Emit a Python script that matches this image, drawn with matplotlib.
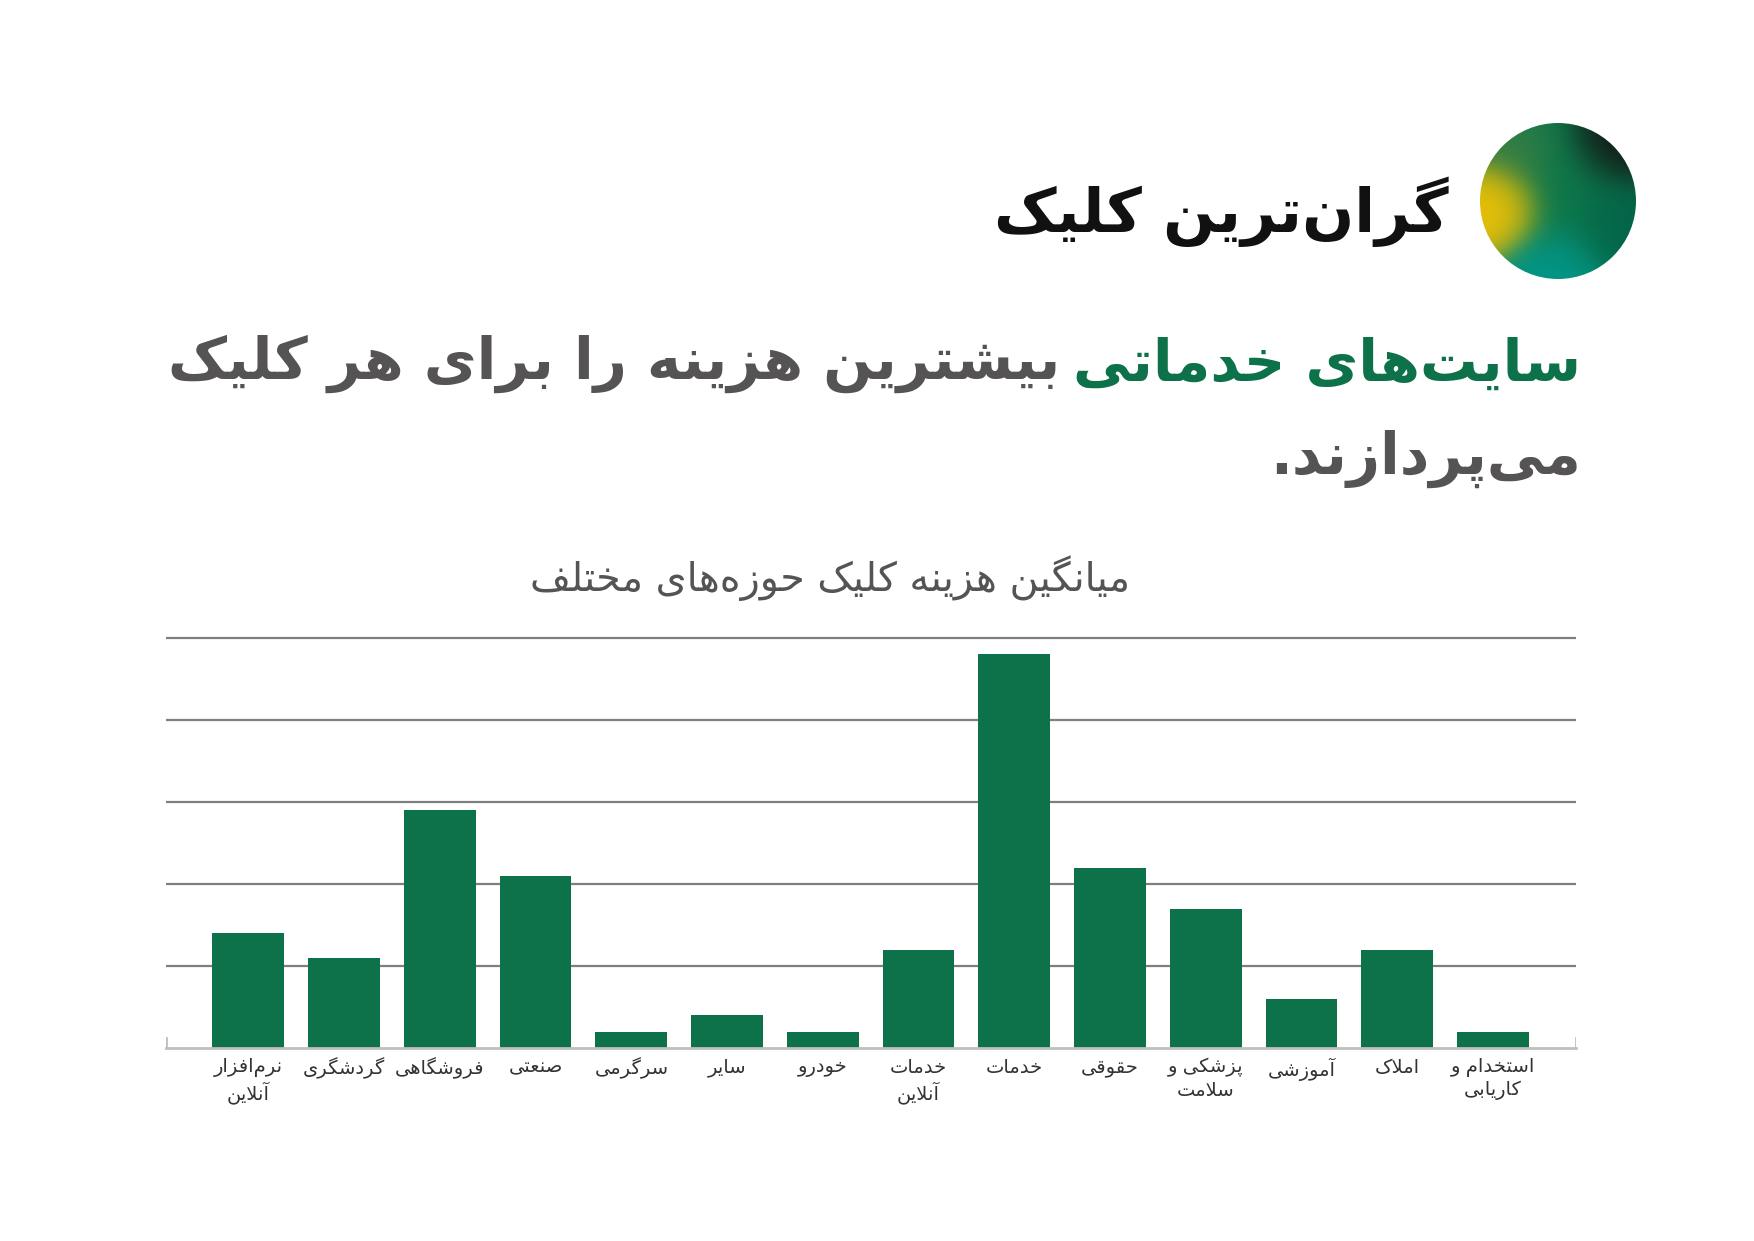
import numpy as np
import matplotlib
matplotlib.use("Agg")
import matplotlib.pyplot as plt
from matplotlib.patches import Circle

# ---------------- data ----------------
categories = ["نرم‌افزار\nآنلاین", "گردشگری", "فروشگاهی", "صنعتی", "سرگرمی", "سایر", "خودرو",
              "خدمات\nآنلاین", "خدمات", "حقوقی", "پزشکی و\nسلامت", "آموزشی", "املاک", "استخدام و\nکاریابی"]
values = [1.4, 1.1, 2.9, 2.1, 0.2, 0.4, 0.2, 1.2, 4.8, 2.2, 1.7, 0.6, 1.2, 0.2]
grid_levels = [1, 2, 3, 4, 5]

title_text = "گران‌ترین کلیک"
sub_green = "سایت‌های خدماتی"
sub_gray = "بیشترین هزینه را برای هر کلیک"
sub_line2 = "می‌پردازند."
chart_title = "میانگین هزینه کلیک حوزه‌های مختلف"

# ---------------- simple Persian shaper ----------------
def _dual(base):
    return (base, base + 1, base + 2, base + 3)

FORMS = {
    'آ': (0xFE81, 0xFE82, None, None), 'ا': (0xFE8D, 0xFE8E, None, None),
    'ب': _dual(0xFE8F), 'پ': _dual(0xFB56), 'ت': _dual(0xFE95), 'ث': _dual(0xFE99),
    'ج': _dual(0xFE9D), 'چ': _dual(0xFB7A), 'ح': _dual(0xFEA1), 'خ': _dual(0xFEA5),
    'د': (0xFEA9, 0xFEAA, None, None), 'ذ': (0xFEAB, 0xFEAC, None, None),
    'ر': (0xFEAD, 0xFEAE, None, None), 'ز': (0xFEAF, 0xFEB0, None, None),
    'ژ': (0xFB8A, 0xFB8B, None, None),
    'س': _dual(0xFEB1), 'ش': _dual(0xFEB5), 'ص': _dual(0xFEB9), 'ض': _dual(0xFEBD),
    'ط': _dual(0xFEC1), 'ظ': _dual(0xFEC5), 'ع': _dual(0xFEC9), 'غ': _dual(0xFECD),
    'ف': _dual(0xFED1), 'ق': _dual(0xFED5), 'ک': _dual(0xFB8E), 'گ': _dual(0xFB92),
    'ل': _dual(0xFEDD), 'م': _dual(0xFEE1), 'ن': _dual(0xFEE5),
    'و': (0xFEED, 0xFEEE, None, None), 'ه': _dual(0xFEE9), 'ی': _dual(0xFBFC),
}
LAMALEF = {'ا': (0xFEFB, 0xFEFC), 'آ': (0xFEF5, 0xFEF6)}


def _joins_next(c):
    return c in FORMS and FORMS[c][2] is not None


def shape_line(s):
    ch = list(s)
    n = len(ch)
    res = []
    i = 0
    while i < n:
        c = ch[i]
        if c not in FORMS:
            if c != '\u200c':
                res.append(c)
            i += 1
            continue
        prev = ch[i - 1] if i > 0 else None
        cp = prev is not None and _joins_next(prev)
        if c == 'ل' and i + 1 < n and ch[i + 1] in LAMALEF:
            lig = LAMALEF[ch[i + 1]]
            res.append(chr(lig[1] if cp else lig[0]))
            i += 2
            continue
        nxt = ch[i + 1] if i + 1 < n else None
        cn = _joins_next(c) and nxt is not None and nxt in FORMS
        f = FORMS[c]
        if cp and cn:
            g = f[3]
        elif cp:
            g = f[1]
        elif cn:
            g = f[2]
        else:
            g = f[0]
        res.append(chr(g))
        i += 1
    return ''.join(res)[::-1]


def fa(s):
    return '\n'.join(shape_line(l) for l in s.split('\n'))


# ---------------- figure ----------------
W, H = 1754, 1241
fig = plt.figure(figsize=(W / 100, H / 100), dpi=100)
fig.patch.set_facecolor('white')
plt.rcParams['font.family'] = ['DejaVu Sans']

GREEN = '#0d7249'
GRAY = '#555354'


def px(x, y):
    return x / W, 1 - y / H


# chart axes
ymax = 5.05
base_y = 1048
unit = 82
ax = fig.add_axes([165.6 / W, 1 - base_y / H, 1410.2 / W, ymax * unit / H])
x = np.arange(len(categories))
for g in grid_levels:
    ax.axhline(g, color='#7f7f7f', lw=1.6, zorder=1)
ax.bar(x, values, width=0.75, color=GREEN, zorder=2)
ax.set_xlim(-0.864, len(categories) - 1 + 0.864)
ax.set_ylim(0, ymax)
for s in ['top', 'right', 'left']:
    ax.spines[s].set_visible(False)
ax.spines['bottom'].set_color('#bfbfbf')
ax.spines['bottom'].set_linewidth(2)
ax.spines['bottom'].set_zorder(3)
ax.axvline(ax.get_xlim()[0], ymin=0, ymax=0.025, color='#bfbfbf', lw=2)
ax.axvline(ax.get_xlim()[1], ymin=0, ymax=0.025, color='#bfbfbf', lw=2)
ax.set_yticks([])
ax.set_xticks(x)
ax.set_xticklabels([fa(c) for c in categories], fontsize=14, color='#333333',
                   multialignment='center', linespacing=1.25)
ax.tick_params(axis='x', length=0, pad=7)

# chart title
fig.text(*px(830, 578), fa(chart_title), fontsize=28.5, color=GRAY, ha='center', va='center')

# main title
fig.text(*px(1449, 212), fa(title_text), fontsize=44, fontweight='bold', color='#111111',
         ha='right', va='center')

# subtitle with coloured part
fig.canvas.draw()
renderer = fig.canvas.get_renderer()
right_x = 1581
t1 = fig.text(*px(right_x, 364), fa(sub_green), fontsize=41.5, fontweight='bold', color=GREEN,
              ha='right', va='center')
bb = t1.get_window_extent(renderer)
gap = 13
fig.text(*px(bb.x0 - gap, 364), fa(sub_gray), fontsize=41.5, fontweight='bold', color=GRAY,
         ha='right', va='center')
fig.text(*px(right_x, 459), fa(sub_line2), fontsize=41.5, fontweight='bold', color=GRAY,
         ha='right', va='center')

# gradient circle
cx, cy, r = 1558, 201, 78
cax = fig.add_axes([(cx - r) / W, 1 - (cy + r) / H, 2 * r / W, 2 * r / H])
cax.set_axis_off()
nn = 300
gx, gy = np.meshgrid(np.linspace(-1, 1, nn), np.linspace(1, -1, nn))
img = np.zeros((nn, nn, 3))
spots = [
    ((0.0, 0.1), (0.05, 0.47, 0.29), 1.0, 0.7),
    ((-0.85, -0.12), (1.0, 0.78, 0.0), 3.0, 0.28),
    ((-0.55, 0.6), (0.30, 0.50, 0.25), 0.6, 0.3),
    ((0.85, 0.85), (0.07, 0.07, 0.07), 2.0, 0.33),
    ((0.85, -0.3), (0.0, 0.37, 0.29), 1.0, 0.35),
    ((-0.1, -1.0), (0.0, 0.60, 0.56), 2.0, 0.33),
]
wsum = np.zeros((nn, nn))
for (sx, sy), col, amp, sig in spots:
    w = amp * np.exp(-((gx - sx) ** 2 + (gy - sy) ** 2) / (2 * sig ** 2))
    wsum += w
    for k in range(3):
        img[..., k] += w * col[k]
img /= wsum[..., None]
im = cax.imshow(img, extent=(-1, 1, -1, 1), interpolation='bilinear')
clip = Circle((0, 0), 1, transform=cax.transData)
im.set_clip_path(clip)
cax.set_xlim(-1, 1)
cax.set_ylim(-1, 1)

fig.savefig('out.png', dpi=100, facecolor='white')
